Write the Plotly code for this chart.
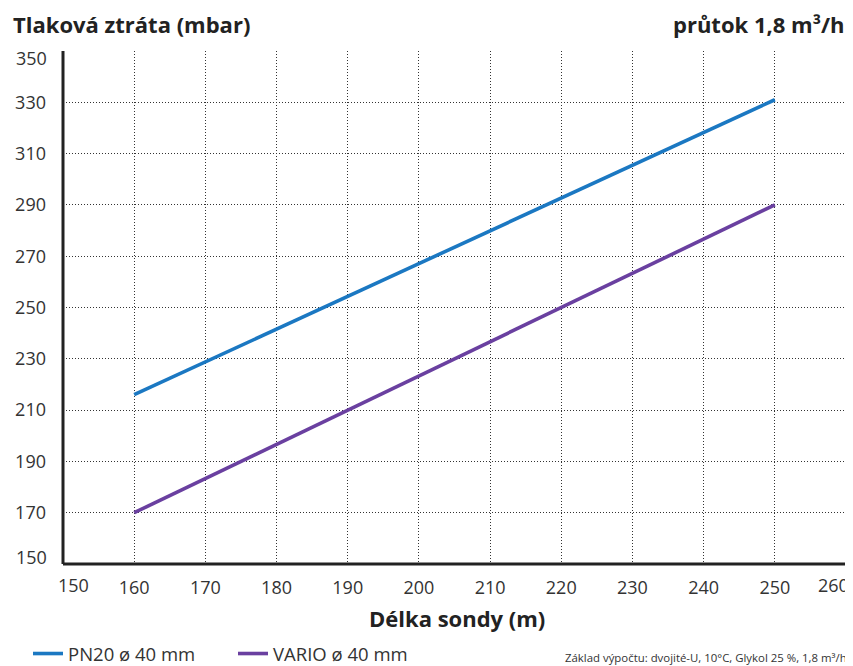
import plotly.graph_objects as go

# Data
lengths = [160, 250]
pn20_loss = [216, 331]
vario_loss = [170, 290]
series_names = ["PN20 ø 40 mm", "VARIO ø 40 mm"]
x_ticks = list(range(150, 261, 10))
y_ticks = list(range(150, 351, 20))

BLUE = "#1b78c2"
PURPLE = "#6a40a0"
FONT = "Open Sans"
TXT = "#222222"
OFF = 8  # page body margin
W, H = 853 - OFF, 666 - OFF
L, T = 60 - OFF, 50.5 - OFF
PLOT_R, PLOT_B = 846 - OFF, 564.5 - OFF
R, B = W - PLOT_R, H - PLOT_B
PW, PH = PLOT_R - L, PLOT_B - T


def px(page_x):
    return (page_x - OFF - L) / PW


def py(page_y):
    return (PLOT_B - (page_y - OFF)) / PH


fig = go.Figure()
fig.add_trace(go.Scatter(x=lengths, y=pn20_loss, mode="lines", name=series_names[0],
                         line=dict(color=BLUE, width=3.6)))
fig.add_trace(go.Scatter(x=lengths, y=vario_loss, mode="lines", name=series_names[1],
                         line=dict(color=PURPLE, width=3.6)))

axis_common = dict(
    showgrid=True, gridcolor="#333333", griddash="1px,2px", gridwidth=1,
    showline=False, zeroline=False,
    tickfont=dict(family=FONT, size=18, color="#333333"),
    ticks="",
)
x_text = [str(v) for v in x_ticks]
x_text[0] = x_text[-1] = ""
y_text = [str(v) for v in y_ticks]
y_text[0] = y_text[-1] = ""
fig.update_xaxes(range=[x_ticks[0], x_ticks[-1]], tickvals=x_ticks, ticktext=x_text,
                 ticklabelstandoff=11, **axis_common)
fig.update_yaxes(range=[y_ticks[0], y_ticks[-1]], tickvals=y_ticks, ticktext=y_text,
                 ticklabelstandoff=16, **axis_common)

# end tick labels kept inside the axis extent
tick_font = dict(family=FONT, size=18, color="#333333")
fig.add_annotation(text=str(x_ticks[0]), x=x_ticks[0], xref="x", y=0, yref="paper",
                   xanchor="left", yanchor="top", yshift=-7, xshift=-7,
                   showarrow=False, font=tick_font)
fig.add_annotation(text=str(x_ticks[-1]), x=x_ticks[-1], xref="x", y=0, yref="paper",
                   xanchor="right", yanchor="top", yshift=-7, xshift=5,
                   showarrow=False, font=tick_font)
fig.add_annotation(text=str(y_ticks[-1]), x=0, xref="paper", y=y_ticks[-1], yref="y",
                   xanchor="right", yanchor="middle", xshift=-14, yshift=-7,
                   showarrow=False, font=tick_font)
fig.add_annotation(text=str(y_ticks[0]), x=0, xref="paper", y=y_ticks[0], yref="y",
                   xanchor="right", yanchor="middle", xshift=-14, yshift=7,
                   showarrow=False, font=tick_font)

# axis lines (left and bottom)
fig.add_shape(type="line", xref="paper", yref="paper", x0=0, x1=0, y0=0, y1=1,
              line=dict(color="#222222", width=3))
fig.add_shape(type="line", xref="paper", yref="paper", x0=0, x1=1, y0=0, y1=0,
              line=dict(color="#222222", width=3))

fig.add_annotation(text="<b>Tlaková ztráta (mbar)</b>", xref="paper", yref="paper",
                   x=px(8), y=py(23), xanchor="left", yanchor="middle", showarrow=False,
                   font=dict(family=FONT, size=22, color=TXT))
fig.add_annotation(text="<b>průtok 1,8 m³/h</b>", xref="paper", yref="paper",
                   x=px(847), y=py(23), xanchor="right", yanchor="middle", showarrow=False,
                   font=dict(family=FONT, size=22, color=TXT))
fig.add_annotation(text="<b>Délka sondy (m)</b>", xref="paper", yref="paper",
                   x=px(456), y=py(619), xanchor="center", yanchor="middle", showarrow=False,
                   font=dict(family=FONT, size=22, color=TXT))
fig.add_annotation(text="Základ výpočtu: dvojité-U, 10°C, Glykol 25 %, 1,8 m³/h",
                   xref="paper", yref="paper",
                   x=px(562), y=py(658), xanchor="left", yanchor="middle", showarrow=False,
                   font=dict(family=FONT, size=11.4, color="#333333"))

fig.update_layout(
    width=W, height=H,
    margin=dict(l=L, r=R, t=T, b=B),
    paper_bgcolor="white", plot_bgcolor="white",
    showlegend=True,
    legend=dict(orientation="h", xref="container", yref="container",
                x=(28 - OFF) / W, y=(H - (654 - OFF)) / H,
                xanchor="left", yanchor="middle",
                font=dict(family=FONT, size=18.5, color="#333333"),
                itemwidth=30, tracegroupgap=0, bgcolor="rgba(0,0,0,0)",
                entrywidth=160, entrywidthmode="pixels"),
    font=dict(family=FONT),
)

fig.write_html("out.html")
